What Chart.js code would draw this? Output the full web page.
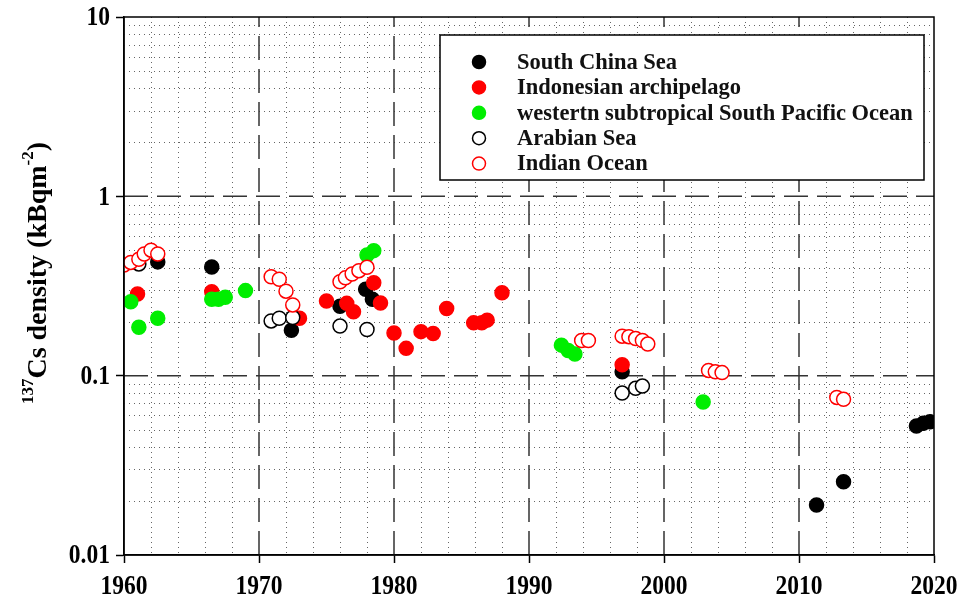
<!DOCTYPE html>
<html>
<head>
<meta charset="utf-8">
<script src="https://cdn.jsdelivr.net/npm/chart.js@4"></script>
<style>
  html, body { margin: 0; padding: 0; background: #fff; }
  #wrap { width: 963px; height: 611px; }
</style>
</head>
<body>
<div id="wrap"><canvas id="csChart" width="963" height="611"></canvas></div>
<script>
// data (year, 137Cs density in kBq/m2)
const scsYears = [1962.5, 1966.5, 1972.4, 1976.0, 1977.9, 1978.4, 1996.9, 2011.3, 2013.3, 2018.7, 2019.2, 2019.7];
const scsValues = [0.431, 0.404, 0.179, 0.244, 0.303, 0.267, 0.105, 0.019, 0.0256, 0.0524, 0.0542, 0.0553];

const indoYears = [1961.0, 1966.5, 1973.0, 1975.0, 1976.5, 1977.0, 1978.5, 1979.0, 1980.0, 1980.9, 1982.0, 1982.9, 1983.9, 1985.9, 1986.5, 1986.9, 1988.0, 1996.9];
const indoValues = [0.285, 0.294, 0.209, 0.261, 0.253, 0.227, 0.330, 0.254, 0.173, 0.142, 0.176, 0.172, 0.237, 0.197, 0.197, 0.204, 0.290, 0.115];

const pacYears = [1960.5, 1961.1, 1962.5, 1966.5, 1967.0, 1967.5, 1969.0, 1978.0, 1978.5, 1992.4, 1992.9, 1993.4, 2002.9];
const pacValues = [0.258, 0.186, 0.209, 0.267, 0.267, 0.274, 0.298, 0.471, 0.498, 0.148, 0.138, 0.132, 0.0714];

const arabYears = [1961.1, 1970.9, 1971.5, 1972.5, 1976.0, 1978.0, 1996.9, 1997.9, 1998.4];
const arabValues = [0.42, 0.202, 0.209, 0.211, 0.189, 0.181, 0.080, 0.085, 0.0875];

const indianYears = [1960.0, 1960.5, 1961.1, 1961.5, 1962.0, 1962.5, 1970.9, 1971.5, 1972.0, 1972.5, 1976.0, 1976.4, 1976.9, 1977.4, 1978.0, 1993.9, 1994.4, 1996.9, 1997.4, 1997.9, 1998.4, 1998.8, 2003.3, 2003.8, 2004.3, 2012.8, 2013.3];
const indianValues = [0.414, 0.428, 0.446, 0.477, 0.501, 0.477, 0.356, 0.345, 0.296, 0.248, 0.334, 0.351, 0.369, 0.385, 0.402, 0.157, 0.157, 0.166, 0.165, 0.161, 0.157, 0.150, 0.107, 0.105, 0.104, 0.0756, 0.0738];

const seriesNames = ['South China Sea', 'Indonesian archipelago', 'westertn subtropical South Pacific Ocean', 'Arabian Sea', 'Indian Ocean'];
const xTicks = [1960, 1970, 1980, 1990, 2000, 2010, 2020];
const yTicks = [0.01, 0.1, 1, 10];

const FONT = '"Liberation Serif", "Times New Roman", serif';

function toPoints(xs, ys) {
  return xs.map((x, i) => ({ x: x, y: ys[i] }));
}

function makeSet(name, xs, ys, fill, stroke, order) {
  return {
    label: name,
    data: toPoints(xs, ys),
    backgroundColor: fill,
    borderColor: stroke,
    borderWidth: 1.5,
    pointRadius: 7,
    pointHoverRadius: 7,
    order: order
  };
}

// background grid: dotted minor lines, dashed decade lines, frame
const gridPlugin = {
  id: 'gridPlugin',
  beforeDatasetsDraw(chart) {
    const ctx = chart.ctx;
    const a = chart.chartArea;
    const xs = chart.scales.x, ys = chart.scales.y;
    ctx.save();
    ctx.lineWidth = 1;
    ctx.strokeStyle = '#666';
    ctx.setLineDash([1, 4]);
    for (let yr = 1962; yr < 2020; yr += 2) {
      if (yr % 10 === 0) continue;
      const px = Math.round(xs.getPixelForValue(yr)) + 0.5;
      ctx.beginPath(); ctx.moveTo(px, a.top); ctx.lineTo(px, a.bottom); ctx.stroke();
    }
    for (let d = 0.01; d < 10; d *= 10) {
      for (let k = 2; k <= 9; k++) {
        const py = Math.round(ys.getPixelForValue(d * k)) + 0.5;
        ctx.beginPath(); ctx.moveTo(a.left, py); ctx.lineTo(a.right, py); ctx.stroke();
      }
    }
    ctx.strokeStyle = '#333';
    ctx.lineWidth = 1.5;
    ctx.setLineDash([24, 9]);
    xTicks.slice(1, -1).forEach(v => {
      const px = xs.getPixelForValue(v);
      ctx.beginPath(); ctx.moveTo(px, a.bottom); ctx.lineTo(px, a.top); ctx.stroke();
    });
    yTicks.slice(1, -1).forEach(v => {
      const py = ys.getPixelForValue(v);
      ctx.beginPath(); ctx.moveTo(a.left, py); ctx.lineTo(a.right, py); ctx.stroke();
    });
    ctx.restore();
  },
  afterDraw(chart) {
    const ctx = chart.ctx;
    const a = chart.chartArea;
    ctx.save();
    ctx.strokeStyle = '#000';
    ctx.lineWidth = 1.5;
    ctx.strokeRect(a.left, a.top, a.right - a.left, a.bottom - a.top);
    ctx.restore();
  }
};

// tick labels in a narrow, tall bold serif like the original
const tickLabelPlugin = {
  id: 'tickLabelPlugin',
  afterDraw(chart) {
    const ctx = chart.ctx;
    const xs = chart.scales.x, ys = chart.scales.y;
    const sx = 0.84;
    ctx.save();
    ctx.fillStyle = '#000';
    ctx.font = 'bold 28px ' + FONT;
    ctx.textBaseline = 'middle';
    xTicks.forEach(v => {
      const px = xs.getPixelForValue(v);
      ctx.save();
      ctx.translate(px, 587);
      ctx.scale(sx, 1);
      ctx.textAlign = 'center';
      ctx.fillText(String(v), 0, 0);
      ctx.restore();
    });
    yTicks.forEach(v => {
      const py = ys.getPixelForValue(v);
      ctx.save();
      ctx.translate(110, py + 1);
      ctx.scale(sx, 1);
      ctx.textAlign = 'right';
      ctx.fillText(String(v), 0, 0);
      ctx.restore();
    });
    ctx.restore();
  }
};

// boxed legend inside the plot, top right
const legendPlugin = {
  id: 'legendPlugin',
  afterDatasetsDraw(chart) {
    const ctx = chart.ctx;
    const bx = 440, by = 35, bw = 484, bh = 145;
    ctx.save();
    ctx.fillStyle = '#fff';
    ctx.fillRect(bx, by, bw, bh);
    ctx.strokeStyle = '#000';
    ctx.lineWidth = 1.5;
    ctx.strokeRect(bx, by, bw, bh);
    ctx.font = 'bold 22.5px ' + FONT;
    ctx.textBaseline = 'middle';
    ctx.textAlign = 'left';
    chart.data.datasets.forEach((ds, i) => {
      const cy = 62 + i * 25.4;
      ctx.beginPath();
      ctx.arc(479, cy, 6.5, 0, Math.PI * 2);
      ctx.fillStyle = ds.backgroundColor;
      ctx.fill();
      ctx.lineWidth = 1.5;
      ctx.strokeStyle = ds.borderColor;
      ctx.stroke();
      ctx.fillStyle = '#111';
      ctx.fillText(ds.label, 517, cy + 1);
    });
    ctx.restore();
  }
};

// rotated y title with superscripts
const yTitlePlugin = {
  id: 'yTitlePlugin',
  afterDraw(chart) {
    const ctx = chart.ctx;
    const big = 'bold 28px ' + FONT, small = 'bold 17px ' + FONT;
    const parts = [
      { t: '137', f: small, dy: -10 },
      { t: 'Cs density (kBqm', f: big, dy: 0 },
      { t: '-2', f: small, dy: -10 },
      { t: ')', f: big, dy: 0 }
    ];
    ctx.save();
    let total = 0;
    parts.forEach(p => { ctx.font = p.f; p.w = ctx.measureText(p.t).width; total += p.w; });
    ctx.translate(39, 273);
    ctx.rotate(-Math.PI / 2);
    ctx.fillStyle = '#000';
    ctx.textBaseline = 'middle';
    ctx.textAlign = 'left';
    let x = -total / 2;
    parts.forEach(p => {
      ctx.font = p.f;
      ctx.fillText(p.t, x, p.dy);
      x += p.w;
    });
    ctx.restore();
  }
};

const ctx = document.getElementById('csChart').getContext('2d');
const csChart = new Chart(ctx, {
  type: 'scatter',
  data: {
    datasets: [
      makeSet(seriesNames[0], scsYears, scsValues, '#000', '#000', 4),
      makeSet(seriesNames[1], indoYears, indoValues, '#ff0000', '#ff0000', 3),
      makeSet(seriesNames[2], pacYears, pacValues, '#00ee00', '#00ee00', 2),
      makeSet(seriesNames[3], arabYears, arabValues, '#fff', '#000', 1),
      makeSet(seriesNames[4], indianYears, indianValues, '#fff', '#ff0000', 0)
    ]
  },
  options: {
    responsive: false,
    animation: false,
    layout: { padding: { top: 17, right: 29, left: 0, bottom: 0 } },
    plugins: {
      legend: { display: false },
      tooltip: { enabled: false }
    },
    scales: {
      x: {
        type: 'linear',
        min: 1960,
        max: 2020,
        afterBuildTicks: s => { s.ticks = xTicks.map(v => ({ value: v })); },
        afterFit: s => { s.height = 56; },
        grid: { drawOnChartArea: false, drawTicks: true, tickLength: 8, tickColor: '#000', tickWidth: 1.5 },
        border: { color: '#000', width: 1.5 },
        ticks: { display: false }
      },
      y: {
        type: 'logarithmic',
        min: 0.01,
        max: 10,
        afterBuildTicks: s => { s.ticks = yTicks.map(v => ({ value: v })); },
        afterFit: s => { s.width = 124; },
        grid: { drawOnChartArea: false, drawTicks: true, tickLength: 8, tickColor: '#000', tickWidth: 1.5 },
        border: { color: '#000', width: 1.5 },
        ticks: { display: false }
      }
    }
  },
  plugins: [gridPlugin, legendPlugin, yTitlePlugin, tickLabelPlugin]
});
</script>
</body>
</html>
